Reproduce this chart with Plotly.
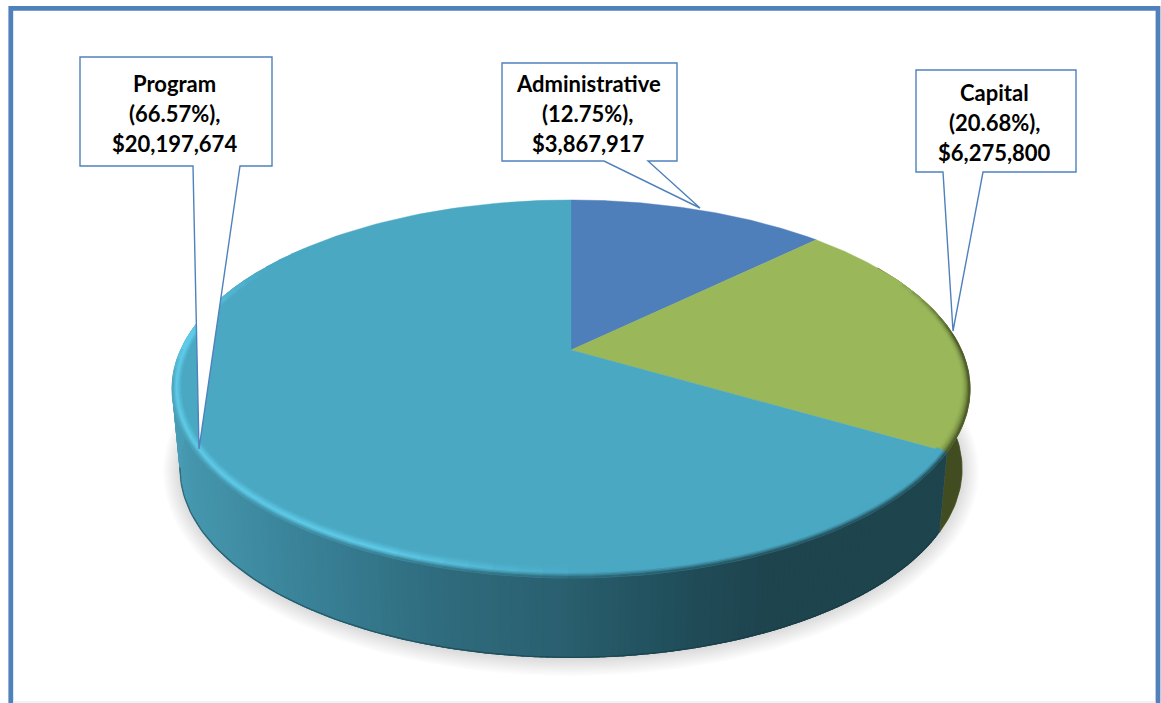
import numpy as np
import plotly.graph_objects as go

# ---- data ----
categories = ["Administrative", "Capital", "Program"]
amounts = [3867917, 6275800, 20197674]
percents = ["12.75%", "20.68%", "66.57%"]
top_colors = ["#4f7fba", "#9ab85a", "#4aa8c3"]

# ---- projection of the pie disc ----
CX, CY = 571.0, 350.0
A, B, K = 390.5, 181.0, 0.206
DEPTH = 80.0
BOTTOM_SCALE = 0.98


def project(theta_deg, su=1.0, sv=1.0, a_scale=1.0, dy=0.0, grow=0.0):
    t = np.radians(theta_deg)
    u, v = np.sin(t) * su, np.cos(t) * sv
    w = 1 + K * v
    sx = u / w * A * a_scale
    sy = -B * v / w
    if grow:
        sx = sx + grow * np.sin(t)
        sy = sy - grow * np.cos(t)
    return CX + sx, CY + sy + dy


def hex_rgb(c):
    c = c.lstrip("#")
    return np.array([int(c[i:i + 2], 16) for i in (0, 2, 4)], float)


def to_hex(rgb):
    return "#%02x%02x%02x" % tuple(int(round(float(v))) for v in rgb)


def mix(c1, c2, f):
    f = float(np.clip(f, 0, 1))
    return to_hex(hex_rgb(c1) * (1 - f) + hex_rgb(c2) * f)


def lerp_stops(x, stops):
    xs = [s[0] for s in stops]
    rgb = np.array([hex_rgb(s[1]) for s in stops])
    return to_hex([np.interp(x, xs, rgb[:, i]) for i in range(3)])


fig = go.Figure()


def poly(xs, ys, fill, lw=0.8):
    fig.add_trace(go.Scatter(
        x=np.round(xs, 2), y=np.round(ys, 2), mode="lines", fill="toself",
        fillcolor=fill, line=dict(color=fill, width=lw),
        hoverinfo="skip", showlegend=False))


total = sum(amounts)
fractions = [a / total for a in amounts]
edges = np.concatenate([[0], np.cumsum(fractions)]) * 360.0
a0, a1, a2, a3 = edges

# soft shadow under the disc
ring = np.linspace(0, 360, 241)
for g in np.linspace(17, 1, 9):
    xs, ys = project(ring, a_scale=BOTTOM_SCALE, dy=DEPTH + 1, grow=g)
    fig.add_trace(go.Scatter(x=np.round(xs, 2), y=np.round(ys, 2), mode="lines", fill="toself",
                             fillcolor="rgba(0,0,0,0.017)", line=dict(width=0),
                             hoverinfo="skip", showlegend=False))

side_stops = [(172, "#4a9fb7"), (190, "#4597ae"), (300, "#3a8399"), (440, "#2f6c7e"),
              (560, "#2a6070"), (700, "#1f4b57"), (770, "#1e444e"), (950, "#1e444e")]

# side wall: Capital part
th = np.append(np.arange(60, a2, 1.0), a2)
x1, y1 = project(th)
x2, y2 = project(th, a_scale=BOTTOM_SCALE, dy=DEPTH)
poly(np.r_[x1, x2[::-1]], np.r_[y1, y2[::-1]], "#414c20")

# side wall: Program part, as strips shaded by their horizontal position.
# Each strip runs under the next one, so no seams show between them.
step = 0.75
th = np.arange(a2, 296, step)
for s in th:
    seg = np.linspace(s, s + 2.5 * step, 4)
    x1, y1 = project(seg)
    x2, y2 = project(seg, a_scale=BOTTOM_SCALE, dy=DEPTH)
    col = lerp_stops((x1[0] + x2[0]) / 2, side_stops)
    poly(np.r_[x1, x2[::-1]], np.r_[y1, y2[::-1]], col, lw=0)

# dark lower edge of the wall
th = np.arange(a2, 259, 1.0)
xb, yb = project(th, a_scale=BOTTOM_SCALE, dy=DEPTH - 0.6)
fig.add_trace(go.Scatter(x=np.round(xb, 2), y=np.round(yb, 2), mode="lines",
                         line=dict(color="rgba(20,55,65,0.5)", width=1.4),
                         hoverinfo="skip", showlegend=False))

# top face slices
for i, col in enumerate(top_colors):
    th = np.linspace(edges[i], edges[i + 1], 160)
    xs, ys = project(th)
    poly(np.r_[CX, xs, CX], np.r_[CY, ys, CY], col, lw=0.4)


# bevelled rim of the top face
def highlight(theta):
    if theta < 178 or theta > 300:
        return 0.0
    return np.clip((theta - 178) / 25.0, 0, 1) * np.clip((300 - theta) / 25.0, 0, 1)


bands = np.linspace(0, 1, 9)
for b0, b1 in zip(bands[:-1], bands[1:]):
    mid = (b0 + b1) / 2
    su0, sv0 = 1 - 0.022 * (1 - b0), 1 - 0.042 * (1 - b0)
    su1, sv1 = 1 - 0.022 * (1 - b1), 1 - 0.042 * (1 - b1)
    # green rim
    th = np.append(np.arange(a1 + 18, a2, 3.0), a2)
    for s, e in zip(th[:-1], th[1:]):
        seg = np.array([s, e])
        strength = np.clip((s - a1 - 18) / 20.0, 0, 1)
        x0, y0 = project(seg, su0, sv0)
        x3, y3 = project(seg, su1, sv1)
        poly(np.r_[x0, x3[::-1]], np.r_[y0, y3[::-1]],
             mix("#9ab85a", "#414c20", (mid ** 2.2) * strength))
    # teal rim
    th = np.arange(a2, 312, 3.0)
    for s, e in zip(th[:-1], th[1:]):
        seg = np.array([s, e])
        c = (s + e) / 2
        x0, y0 = project(seg, su0, sv0)
        x3, y3 = project(seg, su1, sv1)
        h = highlight(c)
        edge_col = lerp_stops(x3.mean(), side_stops)
        fade_top = np.clip((272 - c) / 12.0, 0, 1)
        if mid < 0.55:
            col = mix("#4aa8c3", "#5fcbe8", h * (mid / 0.55))
        else:
            peak = mix("#4aa8c3", "#5fcbe8", h)
            col = mix(peak, edge_col, fade_top * ((mid - 0.55) / 0.45) ** 1.3)
        poly(np.r_[x0, x3[::-1]], np.r_[y0, y3[::-1]], col)

# ---- callouts: (box left, right, top, bottom), tail base x pair, tail tip, text line y ----
frame_color = "#4f81bd"
callouts = {
    "Program": ((80, 272, 57, 166), (193, 240), (199, 449), (83, 113, 143)),
    "Administrative": ((502, 677, 63, 161), (604, 648), (700, 208), (83, 113, 143)),
    "Capital": ((916, 1076, 70, 172), (943, 983), (953, 331), (92, 122, 152)),
}

shapes = []
annotations = []
for name, amount, pct in zip(categories, amounts, percents):
    (l, r, t, b), (tl, tr), (px, py), lines_y = callouts[name]
    path = f"M{l},{t} L{r},{t} L{r},{b} L{tr},{b} L{px},{py} L{tl},{b} L{l},{b} Z"
    shapes.append(dict(type="path", path=path, xref="x", yref="y", layer="above",
                       fillcolor="white", line=dict(color=frame_color, width=1.4)))
    texts = [name, f"({pct}),", f"${amount:,}"]
    for txt, yy in zip(texts, lines_y):
        annotations.append(dict(x=(l + r) / 2 - 1.5, y=yy, xref="x", yref="y", text=f"<b>{txt}</b>",
                                showarrow=False, xanchor="center", yanchor="middle",
                                font=dict(family="Lato, Carlito, sans-serif", size=22, color="#000000")))

# outer frame: three blue sides and a pale bottom line
shapes.append(dict(type="path", path="M10.8,703 L10.8,8.3 L1158,8.3 L1158,703", xref="x", yref="y",
                   layer="above", line=dict(color=frame_color, width=4.8)))
shapes.append(dict(type="line", x0=13, x1=1155.5, y0=702, y1=702, xref="x", yref="y",
                   layer="above", line=dict(color="#e6f0f8", width=1.5)))

fig.update_layout(
    width=1161, height=703, margin=dict(l=0, r=0, t=0, b=0),
    paper_bgcolor="white", plot_bgcolor="white", showlegend=False,
    xaxis=dict(range=[0, 1161], visible=False, fixedrange=True),
    yaxis=dict(range=[703, 0], visible=False, fixedrange=True),
    shapes=shapes, annotations=annotations,
)

fig.write_html("out.html", config=dict(displayModeBar=False),
               post_script="document.body.style.margin='0';document.body.style.overflow='hidden';")
